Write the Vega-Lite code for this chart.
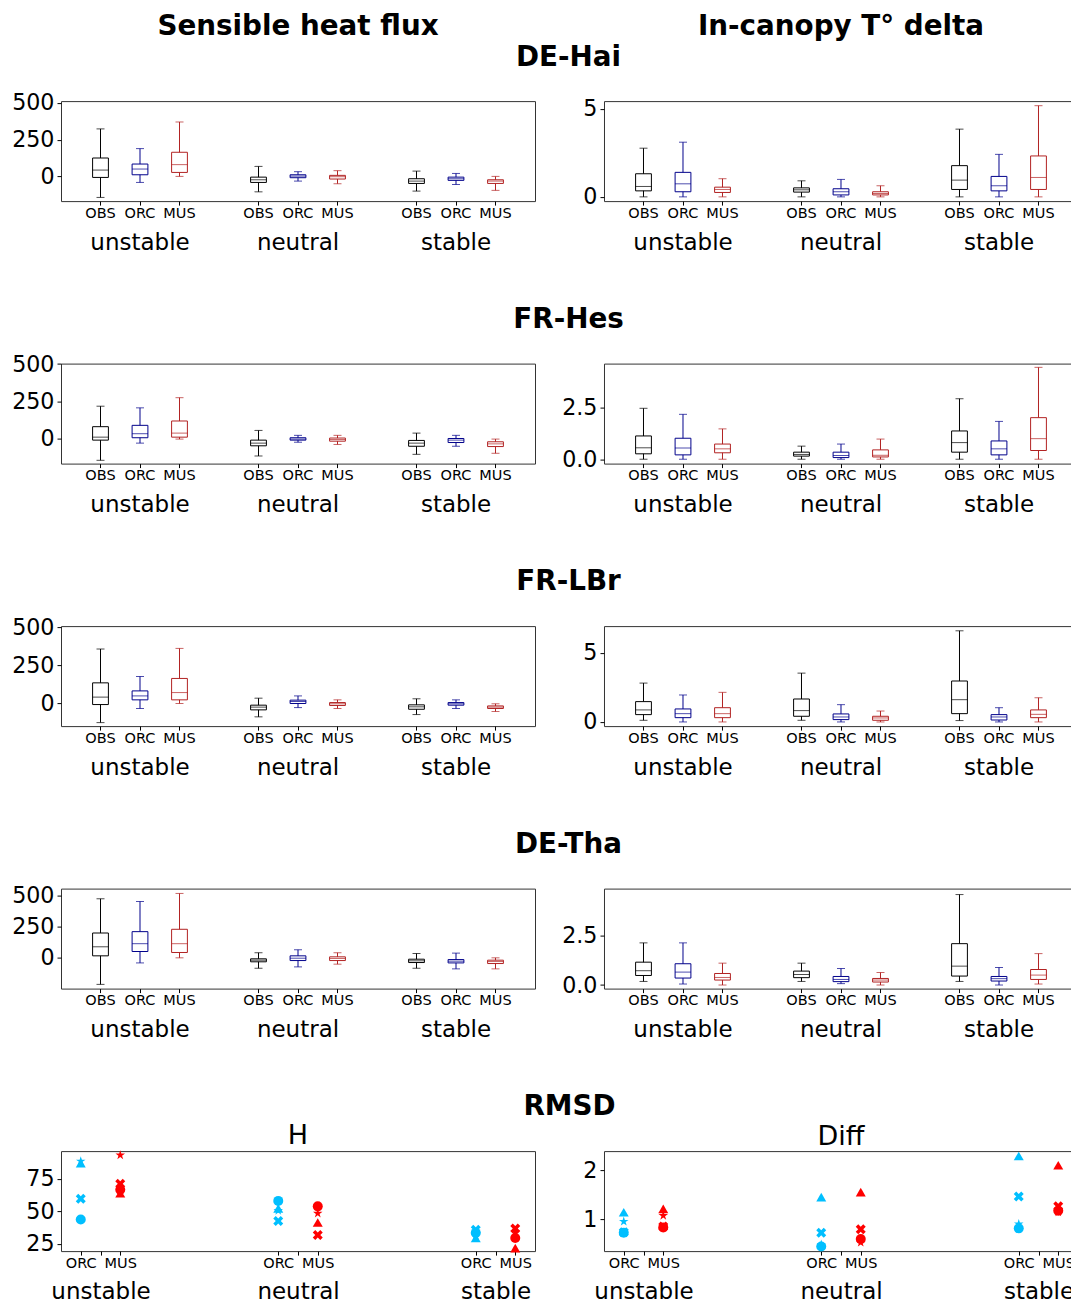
{
"$schema": "https://vega.github.io/schema/vega-lite/v6.json",
"background": "white",
"padding": {"left": 11, "top": 12.8, "right": 0, "bottom": 0},
"config": {
  "font": "DejaVu Sans",
  "view": {"stroke": "#333333", "strokeWidth": 1},
  "axis": {"grid": false, "domain": false, "labelColor": "black", "tickColor": "black", "labelFont": "DejaVu Sans"},
  "axisY": {"labelFontSize": 22.2, "tickSize": 4, "labelPadding": 3},
  "title": {"font": "DejaVu Sans", "color": "black"}
},
"datasets": {
  "headers": [{"col": "H", "label": "Sensible heat flux"}, {"col": "T", "label": "In-canopy T° delta"}],
  "boxes": [
    {"site":"DE-Hai","var":"H","stab":"unstable","model":"OBS","slot":"unstable OBS","lo":-143,"q1":-7,"med":43,"q3":125,"hi":323},
    {"site":"DE-Hai","var":"H","stab":"unstable","model":"ORC","slot":"unstable ORC","lo":-41,"q1":11,"med":50,"q3":84,"hi":189},
    {"site":"DE-Hai","var":"H","stab":"unstable","model":"MUS","slot":"unstable MUS","lo":0,"q1":27,"med":80,"q3":164,"hi":370},
    {"site":"DE-Hai","var":"H","stab":"neutral","model":"OBS","slot":"neutral OBS","lo":-105,"q1":-41,"med":-23,"q3":-5,"hi":68},
    {"site":"DE-Hai","var":"H","stab":"neutral","model":"ORC","slot":"neutral ORC","lo":-32,"q1":-9,"med":2,"q3":11,"hi":32},
    {"site":"DE-Hai","var":"H","stab":"neutral","model":"MUS","slot":"neutral MUS","lo":-50,"q1":-18,"med":-2,"q3":7,"hi":39},
    {"site":"DE-Hai","var":"H","stab":"stable","model":"OBS","slot":"stable OBS","lo":-100,"q1":-48,"med":-32,"q3":-16,"hi":36},
    {"site":"DE-Hai","var":"H","stab":"stable","model":"ORC","slot":"stable ORC","lo":-55,"q1":-27,"med":-16,"q3":-5,"hi":20},
    {"site":"DE-Hai","var":"H","stab":"stable","model":"MUS","slot":"stable MUS","lo":-95,"q1":-48,"med":-32,"q3":-23,"hi":0},
    {"site":"DE-Hai","var":"T","stab":"unstable","model":"OBS","slot":"unstable OBS","lo":0,"q1":0.34,"med":0.59,"q3":1.31,"hi":2.76},
    {"site":"DE-Hai","var":"T","stab":"unstable","model":"ORC","slot":"unstable ORC","lo":0,"q1":0.29,"med":0.74,"q3":1.39,"hi":3.1},
    {"site":"DE-Hai","var":"T","stab":"unstable","model":"MUS","slot":"unstable MUS","lo":0,"q1":0.25,"med":0.42,"q3":0.55,"hi":1.03},
    {"site":"DE-Hai","var":"T","stab":"neutral","model":"OBS","slot":"neutral OBS","lo":0,"q1":0.27,"med":0.4,"q3":0.51,"hi":0.91},
    {"site":"DE-Hai","var":"T","stab":"neutral","model":"ORC","slot":"neutral ORC","lo":0,"q1":0.11,"med":0.29,"q3":0.46,"hi":0.99},
    {"site":"DE-Hai","var":"T","stab":"neutral","model":"MUS","slot":"neutral MUS","lo":0,"q1":0.11,"med":0.19,"q3":0.29,"hi":0.63},
    {"site":"DE-Hai","var":"T","stab":"stable","model":"OBS","slot":"stable OBS","lo":0,"q1":0.42,"med":0.95,"q3":1.77,"hi":3.84},
    {"site":"DE-Hai","var":"T","stab":"stable","model":"ORC","slot":"stable ORC","lo":0,"q1":0.34,"med":0.63,"q3":1.16,"hi":2.41},
    {"site":"DE-Hai","var":"T","stab":"stable","model":"MUS","slot":"stable MUS","lo":0,"q1":0.42,"med":1.1,"q3":2.32,"hi":5.17},
    {"site":"FR-Hes","var":"H","stab":"unstable","model":"OBS","slot":"unstable OBS","lo":-144,"q1":-9,"med":11,"q3":81,"hi":218},
    {"site":"FR-Hes","var":"H","stab":"unstable","model":"ORC","slot":"unstable ORC","lo":-29,"q1":7,"med":34,"q3":90,"hi":207},
    {"site":"FR-Hes","var":"H","stab":"unstable","model":"MUS","slot":"unstable MUS","lo":-2,"q1":11,"med":38,"q3":119,"hi":275},
    {"site":"FR-Hes","var":"H","stab":"neutral","model":"OBS","slot":"neutral OBS","lo":-115,"q1":-47,"med":-29,"q3":-9,"hi":56},
    {"site":"FR-Hes","var":"H","stab":"neutral","model":"ORC","slot":"neutral ORC","lo":-23,"q1":-9,"med":-2,"q3":7,"hi":23},
    {"site":"FR-Hes","var":"H","stab":"neutral","model":"MUS","slot":"neutral MUS","lo":-38,"q1":-16,"med":-5,"q3":5,"hi":23},
    {"site":"FR-Hes","var":"H","stab":"stable","model":"OBS","slot":"stable OBS","lo":-104,"q1":-50,"med":-29,"q3":-11,"hi":38},
    {"site":"FR-Hes","var":"H","stab":"stable","model":"ORC","slot":"stable ORC","lo":-50,"q1":-25,"med":-9,"q3":2,"hi":23},
    {"site":"FR-Hes","var":"H","stab":"stable","model":"MUS","slot":"stable MUS","lo":-97,"q1":-52,"med":-34,"q3":-20,"hi":-2},
    {"site":"FR-Hes","var":"T","stab":"unstable","model":"OBS","slot":"unstable OBS","lo":0,"q1":0.26,"med":0.55,"q3":1.12,"hi":2.45},
    {"site":"FR-Hes","var":"T","stab":"unstable","model":"ORC","slot":"unstable ORC","lo":0,"q1":0.21,"med":0.54,"q3":1.01,"hi":2.16},
    {"site":"FR-Hes","var":"T","stab":"unstable","model":"MUS","slot":"unstable MUS","lo":0,"q1":0.31,"med":0.5,"q3":0.73,"hi":1.46},
    {"site":"FR-Hes","var":"T","stab":"neutral","model":"OBS","slot":"neutral OBS","lo":0,"q1":0.15,"med":0.23,"q3":0.34,"hi":0.63},
    {"site":"FR-Hes","var":"T","stab":"neutral","model":"ORC","slot":"neutral ORC","lo":0,"q1":0.08,"med":0.18,"q3":0.34,"hi":0.73},
    {"site":"FR-Hes","var":"T","stab":"neutral","model":"MUS","slot":"neutral MUS","lo":0,"q1":0.11,"med":0.19,"q3":0.45,"hi":0.97},
    {"site":"FR-Hes","var":"T","stab":"stable","model":"OBS","slot":"stable OBS","lo":0,"q1":0.34,"med":0.8,"q3":1.36,"hi":2.91},
    {"site":"FR-Hes","var":"T","stab":"stable","model":"ORC","slot":"stable ORC","lo":0,"q1":0.21,"med":0.5,"q3":0.88,"hi":1.82},
    {"site":"FR-Hes","var":"T","stab":"stable","model":"MUS","slot":"stable MUS","lo":0,"q1":0.42,"med":0.99,"q3":2.0,"hi":4.42},
    {"site":"FR-LBr","var":"H","stab":"unstable","model":"OBS","slot":"unstable OBS","lo":-128,"q1":-9,"med":40,"q3":134,"hi":357},
    {"site":"FR-LBr","var":"H","stab":"unstable","model":"ORC","slot":"unstable ORC","lo":-35,"q1":22,"med":48,"q3":81,"hi":176},
    {"site":"FR-LBr","var":"H","stab":"unstable","model":"MUS","slot":"unstable MUS","lo":-2,"q1":22,"med":70,"q3":163,"hi":361},
    {"site":"FR-LBr","var":"H","stab":"neutral","model":"OBS","slot":"neutral OBS","lo":-90,"q1":-44,"med":-26,"q3":-13,"hi":33},
    {"site":"FR-LBr","var":"H","stab":"neutral","model":"ORC","slot":"neutral ORC","lo":-29,"q1":-2,"med":11,"q3":20,"hi":48},
    {"site":"FR-LBr","var":"H","stab":"neutral","model":"MUS","slot":"neutral MUS","lo":-35,"q1":-15,"med":-4,"q3":4,"hi":22},
    {"site":"FR-LBr","var":"H","stab":"stable","model":"OBS","slot":"stable OBS","lo":-75,"q1":-40,"med":-24,"q3":-11,"hi":29},
    {"site":"FR-LBr","var":"H","stab":"stable","model":"ORC","slot":"stable ORC","lo":-35,"q1":-13,"med":-4,"q3":4,"hi":22},
    {"site":"FR-LBr","var":"H","stab":"stable","model":"MUS","slot":"stable MUS","lo":-55,"q1":-35,"med":-26,"q3":-18,"hi":-4},
    {"site":"FR-LBr","var":"T","stab":"unstable","model":"OBS","slot":"unstable OBS","lo":0.12,"q1":0.53,"med":0.87,"q3":1.47,"hi":2.81},
    {"site":"FR-LBr","var":"T","stab":"unstable","model":"ORC","slot":"unstable ORC","lo":0,"q1":0.31,"med":0.6,"q3":0.94,"hi":1.95},
    {"site":"FR-LBr","var":"T","stab":"unstable","model":"MUS","slot":"unstable MUS","lo":0,"q1":0.31,"med":0.6,"q3":1.03,"hi":2.14},
    {"site":"FR-LBr","var":"T","stab":"neutral","model":"OBS","slot":"neutral OBS","lo":0.12,"q1":0.41,"med":0.82,"q3":1.66,"hi":3.53},
    {"site":"FR-LBr","var":"T","stab":"neutral","model":"ORC","slot":"neutral ORC","lo":0,"q1":0.17,"med":0.36,"q3":0.58,"hi":1.25},
    {"site":"FR-LBr","var":"T","stab":"neutral","model":"MUS","slot":"neutral MUS","lo":0,"q1":0.12,"med":0.29,"q3":0.41,"hi":0.79},
    {"site":"FR-LBr","var":"T","stab":"stable","model":"OBS","slot":"stable OBS","lo":0.1,"q1":0.6,"med":1.61,"q3":2.96,"hi":6.59},
    {"site":"FR-LBr","var":"T","stab":"stable","model":"ORC","slot":"stable ORC","lo":0,"q1":0.14,"med":0.36,"q3":0.53,"hi":1.03},
    {"site":"FR-LBr","var":"T","stab":"stable","model":"MUS","slot":"stable MUS","lo":0,"q1":0.31,"med":0.55,"q3":0.87,"hi":1.75},
    {"site":"DE-Tha","var":"H","stab":"unstable","model":"OBS","slot":"unstable OBS","lo":-214,"q1":16,"med":89,"q3":200,"hi":476},
    {"site":"DE-Tha","var":"H","stab":"unstable","model":"ORC","slot":"unstable ORC","lo":-41,"q1":51,"med":114,"q3":211,"hi":454},
    {"site":"DE-Tha","var":"H","stab":"unstable","model":"MUS","slot":"unstable MUS","lo":0,"q1":43,"med":114,"q3":230,"hi":519},
    {"site":"DE-Tha","var":"H","stab":"neutral","model":"OBS","slot":"neutral OBS","lo":-84,"q1":-32,"med":-19,"q3":-8,"hi":41},
    {"site":"DE-Tha","var":"H","stab":"neutral","model":"ORC","slot":"neutral ORC","lo":-73,"q1":-22,"med":-3,"q3":16,"hi":65},
    {"site":"DE-Tha","var":"H","stab":"neutral","model":"MUS","slot":"neutral MUS","lo":-51,"q1":-22,"med":-5,"q3":8,"hi":41},
    {"site":"DE-Tha","var":"H","stab":"stable","model":"OBS","slot":"stable OBS","lo":-84,"q1":-38,"med":-24,"q3":-11,"hi":35},
    {"site":"DE-Tha","var":"H","stab":"stable","model":"ORC","slot":"stable ORC","lo":-89,"q1":-41,"med":-27,"q3":-14,"hi":38},
    {"site":"DE-Tha","var":"H","stab":"stable","model":"MUS","slot":"stable MUS","lo":-89,"q1":-46,"med":-30,"q3":-19,"hi":0},
    {"site":"DE-Tha","var":"T","stab":"unstable","model":"OBS","slot":"unstable OBS","lo":0.18,"q1":0.48,"med":0.72,"q3":1.15,"hi":2.12},
    {"site":"DE-Tha","var":"T","stab":"unstable","model":"ORC","slot":"unstable ORC","lo":0.05,"q1":0.35,"med":0.65,"q3":1.07,"hi":2.12},
    {"site":"DE-Tha","var":"T","stab":"unstable","model":"MUS","slot":"unstable MUS","lo":0,"q1":0.25,"med":0.38,"q3":0.58,"hi":1.1},
    {"site":"DE-Tha","var":"T","stab":"neutral","model":"OBS","slot":"neutral OBS","lo":0.18,"q1":0.37,"med":0.53,"q3":0.7,"hi":1.1},
    {"site":"DE-Tha","var":"T","stab":"neutral","model":"ORC","slot":"neutral ORC","lo":0.07,"q1":0.17,"med":0.28,"q3":0.43,"hi":0.83},
    {"site":"DE-Tha","var":"T","stab":"neutral","model":"MUS","slot":"neutral MUS","lo":0,"q1":0.15,"med":0.25,"q3":0.33,"hi":0.63},
    {"site":"DE-Tha","var":"T","stab":"stable","model":"OBS","slot":"stable OBS","lo":0.18,"q1":0.45,"med":0.95,"q3":2.08,"hi":4.55},
    {"site":"DE-Tha","var":"T","stab":"stable","model":"ORC","slot":"stable ORC","lo":0,"q1":0.2,"med":0.32,"q3":0.43,"hi":0.88},
    {"site":"DE-Tha","var":"T","stab":"stable","model":"MUS","slot":"stable MUS","lo":0.05,"q1":0.28,"med":0.5,"q3":0.78,"hi":1.58}
  ],
  "rmsd": [
    {"var":"H","stab":"unstable","model":"ORC","slot":"unstable ORC","site":"DE-Hai","v":43.6},
    {"var":"H","stab":"unstable","model":"ORC","slot":"unstable ORC","site":"FR-Hes","v":59.5},
    {"var":"H","stab":"unstable","model":"ORC","slot":"unstable ORC","site":"FR-LBr","v":86.9},
    {"var":"H","stab":"unstable","model":"ORC","slot":"unstable ORC","site":"DE-Tha","v":88.4},
    {"var":"H","stab":"unstable","model":"MUS","slot":"unstable MUS","site":"DE-Hai","v":66.5},
    {"var":"H","stab":"unstable","model":"MUS","slot":"unstable MUS","site":"FR-Hes","v":71.1},
    {"var":"H","stab":"unstable","model":"MUS","slot":"unstable MUS","site":"FR-LBr","v":63.8},
    {"var":"H","stab":"unstable","model":"MUS","slot":"unstable MUS","site":"DE-Tha","v":93.1},
    {"var":"H","stab":"neutral","model":"ORC","slot":"neutral ORC","site":"DE-Hai","v":57.9},
    {"var":"H","stab":"neutral","model":"ORC","slot":"neutral ORC","site":"FR-Hes","v":42.4},
    {"var":"H","stab":"neutral","model":"ORC","slot":"neutral ORC","site":"FR-LBr","v":52.2},
    {"var":"H","stab":"neutral","model":"ORC","slot":"neutral ORC","site":"DE-Tha","v":50.4},
    {"var":"H","stab":"neutral","model":"MUS","slot":"neutral MUS","site":"DE-Hai","v":53.7},
    {"var":"H","stab":"neutral","model":"MUS","slot":"neutral MUS","site":"FR-Hes","v":31.7},
    {"var":"H","stab":"neutral","model":"MUS","slot":"neutral MUS","site":"FR-LBr","v":41.3},
    {"var":"H","stab":"neutral","model":"MUS","slot":"neutral MUS","site":"DE-Tha","v":48.3},
    {"var":"H","stab":"stable","model":"ORC","slot":"stable ORC","site":"DE-Hai","v":33.3},
    {"var":"H","stab":"stable","model":"ORC","slot":"stable ORC","site":"FR-Hes","v":35.7},
    {"var":"H","stab":"stable","model":"ORC","slot":"stable ORC","site":"FR-LBr","v":29.4},
    {"var":"H","stab":"stable","model":"ORC","slot":"stable ORC","site":"DE-Tha","v":31.5},
    {"var":"H","stab":"stable","model":"MUS","slot":"stable MUS","site":"DE-Hai","v":29.4},
    {"var":"H","stab":"stable","model":"MUS","slot":"stable MUS","site":"FR-Hes","v":36.7},
    {"var":"H","stab":"stable","model":"MUS","slot":"stable MUS","site":"FR-LBr","v":21.6},
    {"var":"H","stab":"stable","model":"MUS","slot":"stable MUS","site":"DE-Tha","v":34.0},
    {"var":"Diff","stab":"unstable","model":"ORC","slot":"unstable ORC","site":"DE-Hai","v":0.72},
    {"var":"Diff","stab":"unstable","model":"ORC","slot":"unstable ORC","site":"FR-Hes","v":0.73},
    {"var":"Diff","stab":"unstable","model":"ORC","slot":"unstable ORC","site":"FR-LBr","v":1.14},
    {"var":"Diff","stab":"unstable","model":"ORC","slot":"unstable ORC","site":"DE-Tha","v":0.95},
    {"var":"Diff","stab":"unstable","model":"MUS","slot":"unstable MUS","site":"DE-Hai","v":0.83},
    {"var":"Diff","stab":"unstable","model":"MUS","slot":"unstable MUS","site":"FR-Hes","v":0.85},
    {"var":"Diff","stab":"unstable","model":"MUS","slot":"unstable MUS","site":"FR-LBr","v":1.21},
    {"var":"Diff","stab":"unstable","model":"MUS","slot":"unstable MUS","site":"DE-Tha","v":1.07},
    {"var":"Diff","stab":"neutral","model":"ORC","slot":"neutral ORC","site":"DE-Hai","v":0.44},
    {"var":"Diff","stab":"neutral","model":"ORC","slot":"neutral ORC","site":"FR-Hes","v":0.72},
    {"var":"Diff","stab":"neutral","model":"ORC","slot":"neutral ORC","site":"FR-LBr","v":1.45},
    {"var":"Diff","stab":"neutral","model":"ORC","slot":"neutral ORC","site":"DE-Tha","v":0.48},
    {"var":"Diff","stab":"neutral","model":"MUS","slot":"neutral MUS","site":"DE-Hai","v":0.59},
    {"var":"Diff","stab":"neutral","model":"MUS","slot":"neutral MUS","site":"FR-Hes","v":0.79},
    {"var":"Diff","stab":"neutral","model":"MUS","slot":"neutral MUS","site":"FR-LBr","v":1.55},
    {"var":"Diff","stab":"neutral","model":"MUS","slot":"neutral MUS","site":"DE-Tha","v":0.52},
    {"var":"Diff","stab":"stable","model":"ORC","slot":"stable ORC","site":"DE-Hai","v":0.81},
    {"var":"Diff","stab":"stable","model":"ORC","slot":"stable ORC","site":"FR-Hes","v":1.46},
    {"var":"Diff","stab":"stable","model":"ORC","slot":"stable ORC","site":"FR-LBr","v":2.29},
    {"var":"Diff","stab":"stable","model":"ORC","slot":"stable ORC","site":"DE-Tha","v":0.9},
    {"var":"Diff","stab":"stable","model":"MUS","slot":"stable MUS","site":"DE-Hai","v":1.17},
    {"var":"Diff","stab":"stable","model":"MUS","slot":"stable MUS","site":"FR-Hes","v":1.26},
    {"var":"Diff","stab":"stable","model":"MUS","slot":"stable MUS","site":"FR-LBr","v":2.1},
    {"var":"Diff","stab":"stable","model":"MUS","slot":"stable MUS","site":"DE-Tha","v":1.14}
  ]
},
"bounds": "flush",
"spacing": 75.3,
"vconcat": [
  {"bounds": "flush", "spacing": 69, "hconcat": [
    {"width": 474, "height": 2, "view": {"stroke": null}, "data": {"name": "headers"}, "transform": [{"filter": "datum.col == 'H'"}],
     "mark": {"type": "text", "fontSize": 27.8, "fontWeight": "bold", "baseline": "middle", "align": "center", "color": "black"},
     "encoding": {"text": {"field": "label", "type": "nominal"}}},
    {"width": 474, "height": 2, "view": {"stroke": null}, "data": {"name": "headers"}, "transform": [{"filter": "datum.col == 'T'"}],
     "mark": {"type": "text", "fontSize": 27.8, "fontWeight": "bold", "baseline": "middle", "align": "center", "color": "black"},
     "encoding": {"text": {"field": "label", "type": "nominal"}}}
  ]},
  {"bounds": "flush", "spacing": 262.5, "vconcat": [
    {"title": {"text": "DE-Hai", "fontSize": 27.8, "fontWeight": "bold", "anchor": "middle", "offset": 19.9, "dx": 23.7}, "bounds": "flush", "spacing": 69, "hconcat": [
      {"width": 474, "height": 100, "data": {"name": "boxes"}, "transform": [{"filter": "datum.site == 'DE-Hai' && datum.var == 'H'"}],
       "layer": [
        {"encoding": {"x": {"field": "slot", "type": "nominal", "scale": {"domain": ["unstable OBS","unstable ORC","unstable MUS","gap1","neutral OBS","neutral ORC","neutral MUS","gap2","stable OBS","stable ORC","stable MUS"], "paddingInner": 0, "paddingOuter": 0.5}, "axis": {"orient": "bottom", "values": ["unstable OBS","unstable ORC","unstable MUS","neutral OBS","neutral ORC","neutral MUS","stable OBS","stable ORC","stable MUS"], "labelExpr": "slice(datum.label, -3)", "labelAngle": 0, "labelFontSize": 14.5, "tickSize": 4, "labelPadding": 1, "title": null}}},
         "layer": [
          {"mark": {"type": "rule", "strokeWidth": 1}, "encoding": {"y": {"field": "lo", "type": "quantitative", "scale": {"domain": [-168, 512], "nice": false, "zero": false}, "axis": {"values": [0, 250, 500], "format": "d", "title": null}}, "y2": {"field": "hi"}, "color": {"field": "model", "type": "nominal", "scale": {"domain": ["OBS","ORC","MUS"], "range": ["#000000","#00008b","#b22222"]}, "legend": null}}},
          {"mark": {"type": "bar", "fill": "white", "strokeWidth": 1, "width": {"band": 0.4}}, "encoding": {"y": {"field": "q1", "type": "quantitative"}, "y2": {"field": "q3"}, "stroke": {"field": "model", "type": "nominal", "scale": {"domain": ["OBS","ORC","MUS"], "range": ["#000000","#00008b","#b22222"]}, "legend": null}}},
          {"mark": {"type": "tick", "thickness": 1, "size": 16}, "encoding": {"y": {"field": "med", "type": "quantitative"}, "color": {"field": "model", "type": "nominal", "scale": {"domain": ["OBS","ORC","MUS"], "range": ["#000000","#00008b","#b22222"]}, "legend": null}}},
          {"mark": {"type": "tick", "thickness": 1, "size": 8}, "encoding": {"y": {"field": "lo", "type": "quantitative"}, "color": {"field": "model", "type": "nominal", "scale": {"domain": ["OBS","ORC","MUS"], "range": ["#000000","#00008b","#b22222"]}, "legend": null}}},
          {"mark": {"type": "tick", "thickness": 1, "size": 8}, "encoding": {"y": {"field": "hi", "type": "quantitative"}, "color": {"field": "model", "type": "nominal", "scale": {"domain": ["OBS","ORC","MUS"], "range": ["#000000","#00008b","#b22222"]}, "legend": null}}}
         ]},
        {"mark": {"type": "tick", "opacity": 0}, "encoding": {"x": {"field": "stab", "type": "nominal", "scale": {"type": "band", "domain": ["unstable","neutral","stable"], "paddingInner": 0, "paddingOuter": 0}, "axis": {"orient": "bottom", "labelAngle": 0, "labelFontSize": 23, "ticks": false, "tickSize": 0, "labelPadding": 30, "title": null}}, "y": {"field": "med", "type": "quantitative"}}}
       ],
       "resolve": {"scale": {"x": "independent"}, "axis": {"x": "independent"}}},
      {"width": 474, "height": 100, "data": {"name": "boxes"}, "transform": [{"filter": "datum.site == 'DE-Hai' && datum.var == 'T'"}],
       "layer": [
        {"encoding": {"x": {"field": "slot", "type": "nominal", "scale": {"domain": ["unstable OBS","unstable ORC","unstable MUS","gap1","neutral OBS","neutral ORC","neutral MUS","gap2","stable OBS","stable ORC","stable MUS"], "paddingInner": 0, "paddingOuter": 0.5}, "axis": {"orient": "bottom", "values": ["unstable OBS","unstable ORC","unstable MUS","neutral OBS","neutral ORC","neutral MUS","stable OBS","stable ORC","stable MUS"], "labelExpr": "slice(datum.label, -3)", "labelAngle": 0, "labelFontSize": 14.5, "tickSize": 4, "labelPadding": 1, "title": null}}},
         "layer": [
          {"mark": {"type": "rule", "strokeWidth": 1}, "encoding": {"y": {"field": "lo", "type": "quantitative", "scale": {"domain": [-0.24, 5.43], "nice": false, "zero": false}, "axis": {"values": [0, 5], "format": "d", "title": null}}, "y2": {"field": "hi"}, "color": {"field": "model", "type": "nominal", "scale": {"domain": ["OBS","ORC","MUS"], "range": ["#000000","#00008b","#b22222"]}, "legend": null}}},
          {"mark": {"type": "bar", "fill": "white", "strokeWidth": 1, "width": {"band": 0.4}}, "encoding": {"y": {"field": "q1", "type": "quantitative"}, "y2": {"field": "q3"}, "stroke": {"field": "model", "type": "nominal", "scale": {"domain": ["OBS","ORC","MUS"], "range": ["#000000","#00008b","#b22222"]}, "legend": null}}},
          {"mark": {"type": "tick", "thickness": 1, "size": 16}, "encoding": {"y": {"field": "med", "type": "quantitative"}, "color": {"field": "model", "type": "nominal", "scale": {"domain": ["OBS","ORC","MUS"], "range": ["#000000","#00008b","#b22222"]}, "legend": null}}},
          {"mark": {"type": "tick", "thickness": 1, "size": 8}, "encoding": {"y": {"field": "lo", "type": "quantitative"}, "color": {"field": "model", "type": "nominal", "scale": {"domain": ["OBS","ORC","MUS"], "range": ["#000000","#00008b","#b22222"]}, "legend": null}}},
          {"mark": {"type": "tick", "thickness": 1, "size": 8}, "encoding": {"y": {"field": "hi", "type": "quantitative"}, "color": {"field": "model", "type": "nominal", "scale": {"domain": ["OBS","ORC","MUS"], "range": ["#000000","#00008b","#b22222"]}, "legend": null}}}
         ]},
        {"mark": {"type": "tick", "opacity": 0}, "encoding": {"x": {"field": "stab", "type": "nominal", "scale": {"type": "band", "domain": ["unstable","neutral","stable"], "paddingInner": 0, "paddingOuter": 0}, "axis": {"orient": "bottom", "labelAngle": 0, "labelFontSize": 23, "ticks": false, "tickSize": 0, "labelPadding": 30, "title": null}}, "y": {"field": "med", "type": "quantitative"}}}
       ],
       "resolve": {"scale": {"x": "independent"}, "axis": {"x": "independent"}}}
    ]},
    {"title": {"text": "FR-Hes", "fontSize": 27.8, "fontWeight": "bold", "anchor": "middle", "offset": 18.5, "dx": 23.7}, "bounds": "flush", "spacing": 69, "hconcat": [
      {"width": 474, "height": 100, "data": {"name": "boxes"}, "transform": [{"filter": "datum.site == 'FR-Hes' && datum.var == 'H'"}],
       "layer": [
        {"encoding": {"x": {"field": "slot", "type": "nominal", "scale": {"domain": ["unstable OBS","unstable ORC","unstable MUS","gap1","neutral OBS","neutral ORC","neutral MUS","gap2","stable OBS","stable ORC","stable MUS"], "paddingInner": 0, "paddingOuter": 0.5}, "axis": {"orient": "bottom", "values": ["unstable OBS","unstable ORC","unstable MUS","neutral OBS","neutral ORC","neutral MUS","stable OBS","stable ORC","stable MUS"], "labelExpr": "slice(datum.label, -3)", "labelAngle": 0, "labelFontSize": 14.5, "tickSize": 4, "labelPadding": 1, "title": null}}},
         "layer": [
          {"mark": {"type": "rule", "strokeWidth": 1}, "encoding": {"y": {"field": "lo", "type": "quantitative", "scale": {"domain": [-166, 503], "nice": false, "zero": false}, "axis": {"values": [0, 250, 500], "format": "d", "title": null}}, "y2": {"field": "hi"}, "color": {"field": "model", "type": "nominal", "scale": {"domain": ["OBS","ORC","MUS"], "range": ["#000000","#00008b","#b22222"]}, "legend": null}}},
          {"mark": {"type": "bar", "fill": "white", "strokeWidth": 1, "width": {"band": 0.4}}, "encoding": {"y": {"field": "q1", "type": "quantitative"}, "y2": {"field": "q3"}, "stroke": {"field": "model", "type": "nominal", "scale": {"domain": ["OBS","ORC","MUS"], "range": ["#000000","#00008b","#b22222"]}, "legend": null}}},
          {"mark": {"type": "tick", "thickness": 1, "size": 16}, "encoding": {"y": {"field": "med", "type": "quantitative"}, "color": {"field": "model", "type": "nominal", "scale": {"domain": ["OBS","ORC","MUS"], "range": ["#000000","#00008b","#b22222"]}, "legend": null}}},
          {"mark": {"type": "tick", "thickness": 1, "size": 8}, "encoding": {"y": {"field": "lo", "type": "quantitative"}, "color": {"field": "model", "type": "nominal", "scale": {"domain": ["OBS","ORC","MUS"], "range": ["#000000","#00008b","#b22222"]}, "legend": null}}},
          {"mark": {"type": "tick", "thickness": 1, "size": 8}, "encoding": {"y": {"field": "hi", "type": "quantitative"}, "color": {"field": "model", "type": "nominal", "scale": {"domain": ["OBS","ORC","MUS"], "range": ["#000000","#00008b","#b22222"]}, "legend": null}}}
         ]},
        {"mark": {"type": "tick", "opacity": 0}, "encoding": {"x": {"field": "stab", "type": "nominal", "scale": {"type": "band", "domain": ["unstable","neutral","stable"], "paddingInner": 0, "paddingOuter": 0}, "axis": {"orient": "bottom", "labelAngle": 0, "labelFontSize": 23, "ticks": false, "tickSize": 0, "labelPadding": 30, "title": null}}, "y": {"field": "med", "type": "quantitative"}}}
       ],
       "resolve": {"scale": {"x": "independent"}, "axis": {"x": "independent"}}},
      {"width": 474, "height": 100, "data": {"name": "boxes"}, "transform": [{"filter": "datum.site == 'FR-Hes' && datum.var == 'T'"}],
       "layer": [
        {"encoding": {"x": {"field": "slot", "type": "nominal", "scale": {"domain": ["unstable OBS","unstable ORC","unstable MUS","gap1","neutral OBS","neutral ORC","neutral MUS","gap2","stable OBS","stable ORC","stable MUS"], "paddingInner": 0, "paddingOuter": 0.5}, "axis": {"orient": "bottom", "values": ["unstable OBS","unstable ORC","unstable MUS","neutral OBS","neutral ORC","neutral MUS","stable OBS","stable ORC","stable MUS"], "labelExpr": "slice(datum.label, -3)", "labelAngle": 0, "labelFontSize": 14.5, "tickSize": 4, "labelPadding": 1, "title": null}}},
         "layer": [
          {"mark": {"type": "rule", "strokeWidth": 1}, "encoding": {"y": {"field": "lo", "type": "quantitative", "scale": {"domain": [-0.21, 4.6], "nice": false, "zero": false}, "axis": {"values": [0, 2.5], "format": ".1f", "title": null}}, "y2": {"field": "hi"}, "color": {"field": "model", "type": "nominal", "scale": {"domain": ["OBS","ORC","MUS"], "range": ["#000000","#00008b","#b22222"]}, "legend": null}}},
          {"mark": {"type": "bar", "fill": "white", "strokeWidth": 1, "width": {"band": 0.4}}, "encoding": {"y": {"field": "q1", "type": "quantitative"}, "y2": {"field": "q3"}, "stroke": {"field": "model", "type": "nominal", "scale": {"domain": ["OBS","ORC","MUS"], "range": ["#000000","#00008b","#b22222"]}, "legend": null}}},
          {"mark": {"type": "tick", "thickness": 1, "size": 16}, "encoding": {"y": {"field": "med", "type": "quantitative"}, "color": {"field": "model", "type": "nominal", "scale": {"domain": ["OBS","ORC","MUS"], "range": ["#000000","#00008b","#b22222"]}, "legend": null}}},
          {"mark": {"type": "tick", "thickness": 1, "size": 8}, "encoding": {"y": {"field": "lo", "type": "quantitative"}, "color": {"field": "model", "type": "nominal", "scale": {"domain": ["OBS","ORC","MUS"], "range": ["#000000","#00008b","#b22222"]}, "legend": null}}},
          {"mark": {"type": "tick", "thickness": 1, "size": 8}, "encoding": {"y": {"field": "hi", "type": "quantitative"}, "color": {"field": "model", "type": "nominal", "scale": {"domain": ["OBS","ORC","MUS"], "range": ["#000000","#00008b","#b22222"]}, "legend": null}}}
         ]},
        {"mark": {"type": "tick", "opacity": 0}, "encoding": {"x": {"field": "stab", "type": "nominal", "scale": {"type": "band", "domain": ["unstable","neutral","stable"], "paddingInner": 0, "paddingOuter": 0}, "axis": {"orient": "bottom", "labelAngle": 0, "labelFontSize": 23, "ticks": false, "tickSize": 0, "labelPadding": 30, "title": null}}, "y": {"field": "med", "type": "quantitative"}}}
       ],
       "resolve": {"scale": {"x": "independent"}, "axis": {"x": "independent"}}}
    ]},
    {"title": {"text": "FR-LBr", "fontSize": 27.8, "fontWeight": "bold", "anchor": "middle", "offset": 20.3, "dx": 23.7}, "bounds": "flush", "spacing": 69, "hconcat": [
      {"width": 474, "height": 100, "data": {"name": "boxes"}, "transform": [{"filter": "datum.site == 'FR-LBr' && datum.var == 'H'"}],
       "layer": [
        {"encoding": {"x": {"field": "slot", "type": "nominal", "scale": {"domain": ["unstable OBS","unstable ORC","unstable MUS","gap1","neutral OBS","neutral ORC","neutral MUS","gap2","stable OBS","stable ORC","stable MUS"], "paddingInner": 0, "paddingOuter": 0.5}, "axis": {"orient": "bottom", "values": ["unstable OBS","unstable ORC","unstable MUS","neutral OBS","neutral ORC","neutral MUS","stable OBS","stable ORC","stable MUS"], "labelExpr": "slice(datum.label, -3)", "labelAngle": 0, "labelFontSize": 14.5, "tickSize": 4, "labelPadding": 1, "title": null}}},
         "layer": [
          {"mark": {"type": "rule", "strokeWidth": 1}, "encoding": {"y": {"field": "lo", "type": "quantitative", "scale": {"domain": [-151, 508], "nice": false, "zero": false}, "axis": {"values": [0, 250, 500], "format": "d", "title": null}}, "y2": {"field": "hi"}, "color": {"field": "model", "type": "nominal", "scale": {"domain": ["OBS","ORC","MUS"], "range": ["#000000","#00008b","#b22222"]}, "legend": null}}},
          {"mark": {"type": "bar", "fill": "white", "strokeWidth": 1, "width": {"band": 0.4}}, "encoding": {"y": {"field": "q1", "type": "quantitative"}, "y2": {"field": "q3"}, "stroke": {"field": "model", "type": "nominal", "scale": {"domain": ["OBS","ORC","MUS"], "range": ["#000000","#00008b","#b22222"]}, "legend": null}}},
          {"mark": {"type": "tick", "thickness": 1, "size": 16}, "encoding": {"y": {"field": "med", "type": "quantitative"}, "color": {"field": "model", "type": "nominal", "scale": {"domain": ["OBS","ORC","MUS"], "range": ["#000000","#00008b","#b22222"]}, "legend": null}}},
          {"mark": {"type": "tick", "thickness": 1, "size": 8}, "encoding": {"y": {"field": "lo", "type": "quantitative"}, "color": {"field": "model", "type": "nominal", "scale": {"domain": ["OBS","ORC","MUS"], "range": ["#000000","#00008b","#b22222"]}, "legend": null}}},
          {"mark": {"type": "tick", "thickness": 1, "size": 8}, "encoding": {"y": {"field": "hi", "type": "quantitative"}, "color": {"field": "model", "type": "nominal", "scale": {"domain": ["OBS","ORC","MUS"], "range": ["#000000","#00008b","#b22222"]}, "legend": null}}}
         ]},
        {"mark": {"type": "tick", "opacity": 0}, "encoding": {"x": {"field": "stab", "type": "nominal", "scale": {"type": "band", "domain": ["unstable","neutral","stable"], "paddingInner": 0, "paddingOuter": 0}, "axis": {"orient": "bottom", "labelAngle": 0, "labelFontSize": 23, "ticks": false, "tickSize": 0, "labelPadding": 30, "title": null}}, "y": {"field": "med", "type": "quantitative"}}}
       ],
       "resolve": {"scale": {"x": "independent"}, "axis": {"x": "independent"}}},
      {"width": 474, "height": 100, "data": {"name": "boxes"}, "transform": [{"filter": "datum.site == 'FR-LBr' && datum.var == 'T'"}],
       "layer": [
        {"encoding": {"x": {"field": "slot", "type": "nominal", "scale": {"domain": ["unstable OBS","unstable ORC","unstable MUS","gap1","neutral OBS","neutral ORC","neutral MUS","gap2","stable OBS","stable ORC","stable MUS"], "paddingInner": 0, "paddingOuter": 0.5}, "axis": {"orient": "bottom", "values": ["unstable OBS","unstable ORC","unstable MUS","neutral OBS","neutral ORC","neutral MUS","stable OBS","stable ORC","stable MUS"], "labelExpr": "slice(datum.label, -3)", "labelAngle": 0, "labelFontSize": 14.5, "tickSize": 4, "labelPadding": 1, "title": null}}},
         "layer": [
          {"mark": {"type": "rule", "strokeWidth": 1}, "encoding": {"y": {"field": "lo", "type": "quantitative", "scale": {"domain": [-0.3, 6.93], "nice": false, "zero": false}, "axis": {"values": [0, 5], "format": "d", "title": null}}, "y2": {"field": "hi"}, "color": {"field": "model", "type": "nominal", "scale": {"domain": ["OBS","ORC","MUS"], "range": ["#000000","#00008b","#b22222"]}, "legend": null}}},
          {"mark": {"type": "bar", "fill": "white", "strokeWidth": 1, "width": {"band": 0.4}}, "encoding": {"y": {"field": "q1", "type": "quantitative"}, "y2": {"field": "q3"}, "stroke": {"field": "model", "type": "nominal", "scale": {"domain": ["OBS","ORC","MUS"], "range": ["#000000","#00008b","#b22222"]}, "legend": null}}},
          {"mark": {"type": "tick", "thickness": 1, "size": 16}, "encoding": {"y": {"field": "med", "type": "quantitative"}, "color": {"field": "model", "type": "nominal", "scale": {"domain": ["OBS","ORC","MUS"], "range": ["#000000","#00008b","#b22222"]}, "legend": null}}},
          {"mark": {"type": "tick", "thickness": 1, "size": 8}, "encoding": {"y": {"field": "lo", "type": "quantitative"}, "color": {"field": "model", "type": "nominal", "scale": {"domain": ["OBS","ORC","MUS"], "range": ["#000000","#00008b","#b22222"]}, "legend": null}}},
          {"mark": {"type": "tick", "thickness": 1, "size": 8}, "encoding": {"y": {"field": "hi", "type": "quantitative"}, "color": {"field": "model", "type": "nominal", "scale": {"domain": ["OBS","ORC","MUS"], "range": ["#000000","#00008b","#b22222"]}, "legend": null}}}
         ]},
        {"mark": {"type": "tick", "opacity": 0}, "encoding": {"x": {"field": "stab", "type": "nominal", "scale": {"type": "band", "domain": ["unstable","neutral","stable"], "paddingInner": 0, "paddingOuter": 0}, "axis": {"orient": "bottom", "labelAngle": 0, "labelFontSize": 23, "ticks": false, "tickSize": 0, "labelPadding": 30, "title": null}}, "y": {"field": "med", "type": "quantitative"}}}
       ],
       "resolve": {"scale": {"x": "independent"}, "axis": {"x": "independent"}}}
    ]},
    {"title": {"text": "DE-Tha", "fontSize": 27.8, "fontWeight": "bold", "anchor": "middle", "offset": 25.3, "dx": 23.7}, "bounds": "flush", "spacing": 69, "hconcat": [
      {"width": 474, "height": 100, "data": {"name": "boxes"}, "transform": [{"filter": "datum.site == 'DE-Tha' && datum.var == 'H'"}],
       "layer": [
        {"encoding": {"x": {"field": "slot", "type": "nominal", "scale": {"domain": ["unstable OBS","unstable ORC","unstable MUS","gap1","neutral OBS","neutral ORC","neutral MUS","gap2","stable OBS","stable ORC","stable MUS"], "paddingInner": 0, "paddingOuter": 0.5}, "axis": {"orient": "bottom", "values": ["unstable OBS","unstable ORC","unstable MUS","neutral OBS","neutral ORC","neutral MUS","stable OBS","stable ORC","stable MUS"], "labelExpr": "slice(datum.label, -3)", "labelAngle": 0, "labelFontSize": 14.5, "tickSize": 4, "labelPadding": 1, "title": null}}},
         "layer": [
          {"mark": {"type": "rule", "strokeWidth": 1}, "encoding": {"y": {"field": "lo", "type": "quantitative", "scale": {"domain": [-248, 558], "nice": false, "zero": false}, "axis": {"values": [0, 250, 500], "format": "d", "title": null}}, "y2": {"field": "hi"}, "color": {"field": "model", "type": "nominal", "scale": {"domain": ["OBS","ORC","MUS"], "range": ["#000000","#00008b","#b22222"]}, "legend": null}}},
          {"mark": {"type": "bar", "fill": "white", "strokeWidth": 1, "width": {"band": 0.4}}, "encoding": {"y": {"field": "q1", "type": "quantitative"}, "y2": {"field": "q3"}, "stroke": {"field": "model", "type": "nominal", "scale": {"domain": ["OBS","ORC","MUS"], "range": ["#000000","#00008b","#b22222"]}, "legend": null}}},
          {"mark": {"type": "tick", "thickness": 1, "size": 16}, "encoding": {"y": {"field": "med", "type": "quantitative"}, "color": {"field": "model", "type": "nominal", "scale": {"domain": ["OBS","ORC","MUS"], "range": ["#000000","#00008b","#b22222"]}, "legend": null}}},
          {"mark": {"type": "tick", "thickness": 1, "size": 8}, "encoding": {"y": {"field": "lo", "type": "quantitative"}, "color": {"field": "model", "type": "nominal", "scale": {"domain": ["OBS","ORC","MUS"], "range": ["#000000","#00008b","#b22222"]}, "legend": null}}},
          {"mark": {"type": "tick", "thickness": 1, "size": 8}, "encoding": {"y": {"field": "hi", "type": "quantitative"}, "color": {"field": "model", "type": "nominal", "scale": {"domain": ["OBS","ORC","MUS"], "range": ["#000000","#00008b","#b22222"]}, "legend": null}}}
         ]},
        {"mark": {"type": "tick", "opacity": 0}, "encoding": {"x": {"field": "stab", "type": "nominal", "scale": {"type": "band", "domain": ["unstable","neutral","stable"], "paddingInner": 0, "paddingOuter": 0}, "axis": {"orient": "bottom", "labelAngle": 0, "labelFontSize": 23, "ticks": false, "tickSize": 0, "labelPadding": 30, "title": null}}, "y": {"field": "med", "type": "quantitative"}}}
       ],
       "resolve": {"scale": {"x": "independent"}, "axis": {"x": "independent"}}},
      {"width": 474, "height": 100, "data": {"name": "boxes"}, "transform": [{"filter": "datum.site == 'DE-Tha' && datum.var == 'T'"}],
       "layer": [
        {"encoding": {"x": {"field": "slot", "type": "nominal", "scale": {"domain": ["unstable OBS","unstable ORC","unstable MUS","gap1","neutral OBS","neutral ORC","neutral MUS","gap2","stable OBS","stable ORC","stable MUS"], "paddingInner": 0, "paddingOuter": 0.5}, "axis": {"orient": "bottom", "values": ["unstable OBS","unstable ORC","unstable MUS","neutral OBS","neutral ORC","neutral MUS","stable OBS","stable ORC","stable MUS"], "labelExpr": "slice(datum.label, -3)", "labelAngle": 0, "labelFontSize": 14.5, "tickSize": 4, "labelPadding": 1, "title": null}}},
         "layer": [
          {"mark": {"type": "rule", "strokeWidth": 1}, "encoding": {"y": {"field": "lo", "type": "quantitative", "scale": {"domain": [-0.18, 4.85], "nice": false, "zero": false}, "axis": {"values": [0, 2.5], "format": ".1f", "title": null}}, "y2": {"field": "hi"}, "color": {"field": "model", "type": "nominal", "scale": {"domain": ["OBS","ORC","MUS"], "range": ["#000000","#00008b","#b22222"]}, "legend": null}}},
          {"mark": {"type": "bar", "fill": "white", "strokeWidth": 1, "width": {"band": 0.4}}, "encoding": {"y": {"field": "q1", "type": "quantitative"}, "y2": {"field": "q3"}, "stroke": {"field": "model", "type": "nominal", "scale": {"domain": ["OBS","ORC","MUS"], "range": ["#000000","#00008b","#b22222"]}, "legend": null}}},
          {"mark": {"type": "tick", "thickness": 1, "size": 16}, "encoding": {"y": {"field": "med", "type": "quantitative"}, "color": {"field": "model", "type": "nominal", "scale": {"domain": ["OBS","ORC","MUS"], "range": ["#000000","#00008b","#b22222"]}, "legend": null}}},
          {"mark": {"type": "tick", "thickness": 1, "size": 8}, "encoding": {"y": {"field": "lo", "type": "quantitative"}, "color": {"field": "model", "type": "nominal", "scale": {"domain": ["OBS","ORC","MUS"], "range": ["#000000","#00008b","#b22222"]}, "legend": null}}},
          {"mark": {"type": "tick", "thickness": 1, "size": 8}, "encoding": {"y": {"field": "hi", "type": "quantitative"}, "color": {"field": "model", "type": "nominal", "scale": {"domain": ["OBS","ORC","MUS"], "range": ["#000000","#00008b","#b22222"]}, "legend": null}}}
         ]},
        {"mark": {"type": "tick", "opacity": 0}, "encoding": {"x": {"field": "stab", "type": "nominal", "scale": {"type": "band", "domain": ["unstable","neutral","stable"], "paddingInner": 0, "paddingOuter": 0}, "axis": {"orient": "bottom", "labelAngle": 0, "labelFontSize": 23, "ticks": false, "tickSize": 0, "labelPadding": 30, "title": null}}, "y": {"field": "med", "type": "quantitative"}}}
       ],
       "resolve": {"scale": {"x": "independent"}, "axis": {"x": "independent"}}}
    ]},
    {"title": {"text": "RMSD", "fontSize": 27.8, "fontWeight": "bold", "anchor": "middle", "offset": 0.6, "dx": 17.6}, "bounds": "flush", "spacing": 69, "hconcat": [
      {"width": 474, "height": 100, "title": {"text": "H", "fontSize": 27, "fontWeight": "normal", "anchor": "middle", "offset": 0}, "data": {"name": "rmsd"}, "transform": [{"filter": "datum.var == 'H'"}],
       "layer": [
        {"mark": {"type": "point", "filled": true, "opacity": 1, "size": 100, "strokeWidth": 0},
         "encoding": {
          "x": {"field": "slot", "type": "nominal", "scale": {"domain": ["unstable ORC","unstable MUS","g1","g2","g3","neutral ORC","neutral MUS","g4","g5","g6","stable ORC","stable MUS"], "paddingInner": 0, "paddingOuter": 0}, "axis": {"orient": "bottom", "values": ["unstable ORC","unstable MUS","neutral ORC","neutral MUS","stable ORC","stable MUS"], "labelExpr": "slice(datum.label, -3)", "labelAngle": 0, "labelFontSize": 14.5, "tickSize": 4, "labelPadding": 1, "title": null}},
          "y": {"field": "v", "type": "quantitative", "scale": {"domain": [19.3, 96.2], "nice": false, "zero": false}, "axis": {"values": [25, 50, 75], "format": "d", "title": null}},
          "fill": {"field": "model", "type": "nominal", "scale": {"domain": ["ORC","MUS"], "range": ["#00bfff","#ff0000"]}, "legend": null},
          "shape": {"field": "site", "type": "nominal", "scale": {"domain": ["DE-Hai","FR-Hes","FR-LBr","DE-Tha"], "range": ["circle", "M0,-0.5L0.5,-1L1,-0.5L0.5,0L1,0.5L0.5,1L0,0.5L-0.5,1L-1,0.5L-0.5,0L-1,-0.5L-0.5,-1Z", "triangle-up", "M0,-1L0.2245,-0.309L0.951,-0.309L0.363,0.118L0.588,0.809L0,0.382L-0.588,0.809L-0.363,0.118L-0.951,-0.309L-0.2245,-0.309Z"]}, "legend": null}
         }},
        {"mark": {"type": "tick", "opacity": 0}, "encoding": {"x": {"field": "stab", "type": "nominal", "scale": {"type": "point", "domain": ["unstable","neutral","stable"], "padding": 0.2}, "axis": {"orient": "bottom", "labelAngle": 0, "labelFontSize": 23, "ticks": true, "tickSize": 4, "labelPadding": 25, "title": null}}, "y": {"field": "v", "type": "quantitative"}}}
       ],
       "resolve": {"scale": {"x": "independent"}, "axis": {"x": "independent"}}},
      {"width": 474, "height": 100, "title": {"text": "Diff", "fontSize": 27, "fontWeight": "normal", "anchor": "middle", "offset": 0}, "data": {"name": "rmsd"}, "transform": [{"filter": "datum.var == 'Diff'"}],
       "layer": [
        {"mark": {"type": "point", "filled": true, "opacity": 1, "size": 100, "strokeWidth": 0},
         "encoding": {
          "x": {"field": "slot", "type": "nominal", "scale": {"domain": ["unstable ORC","unstable MUS","g1","g2","g3","neutral ORC","neutral MUS","g4","g5","g6","stable ORC","stable MUS"], "paddingInner": 0, "paddingOuter": 0}, "axis": {"orient": "bottom", "values": ["unstable ORC","unstable MUS","neutral ORC","neutral MUS","stable ORC","stable MUS"], "labelExpr": "slice(datum.label, -3)", "labelAngle": 0, "labelFontSize": 14.5, "tickSize": 4, "labelPadding": 1, "title": null}},
          "y": {"field": "v", "type": "quantitative", "scale": {"domain": [0.345, 2.39], "nice": false, "zero": false}, "axis": {"values": [1, 2], "format": "d", "title": null}},
          "fill": {"field": "model", "type": "nominal", "scale": {"domain": ["ORC","MUS"], "range": ["#00bfff","#ff0000"]}, "legend": null},
          "shape": {"field": "site", "type": "nominal", "scale": {"domain": ["DE-Hai","FR-Hes","FR-LBr","DE-Tha"], "range": ["circle", "M0,-0.5L0.5,-1L1,-0.5L0.5,0L1,0.5L0.5,1L0,0.5L-0.5,1L-1,0.5L-0.5,0L-1,-0.5L-0.5,-1Z", "triangle-up", "M0,-1L0.2245,-0.309L0.951,-0.309L0.363,0.118L0.588,0.809L0,0.382L-0.588,0.809L-0.363,0.118L-0.951,-0.309L-0.2245,-0.309Z"]}, "legend": null}
         }},
        {"mark": {"type": "tick", "opacity": 0}, "encoding": {"x": {"field": "stab", "type": "nominal", "scale": {"type": "point", "domain": ["unstable","neutral","stable"], "padding": 0.2}, "axis": {"orient": "bottom", "labelAngle": 0, "labelFontSize": 23, "ticks": true, "tickSize": 4, "labelPadding": 25, "title": null}}, "y": {"field": "v", "type": "quantitative"}}}
       ],
       "resolve": {"scale": {"x": "independent"}, "axis": {"x": "independent"}}}
    ]}
  ]}
]
}
